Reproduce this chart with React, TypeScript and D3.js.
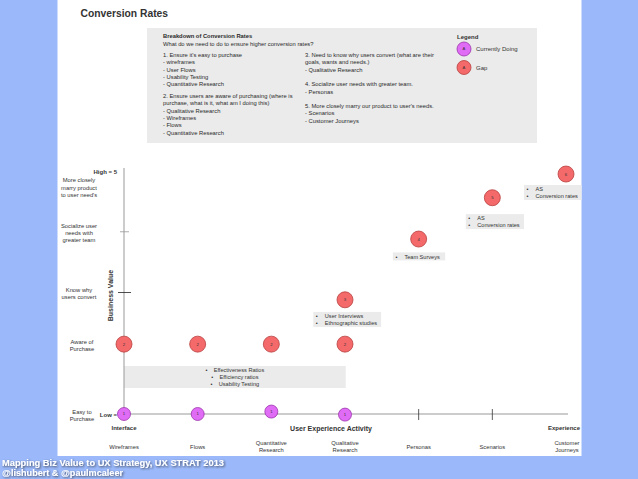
import React from "react";
import * as d3 from "d3";

// ---------- data ----------
const categories = ["Wireframes", "Flows", "Quantitative Research", "Qualitative Research", "Personas", "Scenarios", "Customer Journeys"];
const categoryLabelLines = [["Wireframes"], ["Flows"], ["Quantitative", "Research"], ["Qualitative", "Research"], ["Personas"], ["Scenarios"], ["Customer", "Journeys"]];
const tickedCategories = ["Personas", "Scenarios"];

const currentlyDoingCats = ["Wireframes", "Flows", "Quantitative Research", "Qualitative Research"];
const currentlyDoingValues = [1, 1, 1.04, 0.99];
const currentlyDoingSteps = ["1", "1", "1", "1"];

const gapCats = ["Wireframes", "Flows", "Quantitative Research", "Qualitative Research", "Qualitative Research", "Personas", "Scenarios", "Customer Journeys"];
const gapValues = [2.15, 2.15, 2.15, 2.15, 2.88, 3.88, 4.56, 4.95];
const gapSteps = ["2", "2", "2", "2", "3", "4", "5", "6"];

const yLevelValues = [1, 2.15, 3, 4, 4.75];
const yLevelLabels = [["Easy to", "Purchase"], ["Aware of", "Purchase"], ["Know why", "users convert"], ["Socialize user", "needs with", "greater team"], ["More closely", "marry product", "to user need's"]];
const yTickValues = [3, 4];

const annotationTexts = [
  ["Effectiveness Ratios", "Efficiency ratios", "Usability Testing"],
  ["User Interviews", "Ethnographic studies"],
  ["Team Surveys"],
  ["AS", "Conversion rates"],
  ["AS", "Conversion rates"],
];

const breakdownTitle = "Breakdown of Conversion Rates";
const breakdownQuestion = "What do we need to do to ensure higher conversion rates?";
const breakdownCol1 = [
  ["1. Ensure it's easy to purchase", "- wireframes", "- User Flows", "- Usability Testing", "- Quantitative Research"],
  ["2. Ensure users are aware of purchasing (where is", "purchase, what is it, what am I doing this)", "- Qualitative Research", "- Wireframes", "- Flows", "- Quantitative Research"],
];
const breakdownCol2 = [
  ["3. Need to know why users convert (what are their", "goals, wants and needs.)", "- Qualitative Research"],
  ["4. Socialize user needs with greater team.", "- Personas"],
  ["5. More closely marry our product to user's needs.", "- Scenarios", "- Customer Journeys"],
];
const legendLabels = ["Currently Doing", "Gap"];

// ---------- layout / style ----------
const W = 638, H = 479;
const FONT = "'Liberation Sans', Arial, Helvetica, sans-serif";
const BLUE = "#9ab8fa";
const RED = "#f46a6a", RED_S = "#b84040";
const PURPLE = "#e06cf6", PURPLE_S = "#9a35ab";
const BOXGREY = "#ebebeb";
const AXIS = "#999";

const x = d3.scalePoint<string>().domain(categories).range([124, 566]);
const xi = d3.scaleLinear().domain([0, categories.length - 1]).range([124, 566]);
const y = d3.scaleLinear().domain([1, 5]).range([414, 171]);

// annotation boxes: [x0 idx, x1 idx, top value, align]
const annotationLayout: [number, number, number, string][] = [
  [0, 3.01, 1.79, "middle"],
  [2.57, 3.49, 2.68, "start"],
  [3.65, 4.36, 3.66, "start"],
  [4.64, 5.43, 4.29, "start"],
  [5.43, 6.45, 4.77, "start"],
];

function Circle({ cx, cy, r, fill, stroke, label }: any) {
  return (
    <g>
      <circle cx={cx} cy={cy} r={r} fill={fill} stroke={stroke} strokeWidth={0.8} />
      <text x={cx} y={cy} dy="0.35em" textAnchor="middle" fontSize={4.2} fill="#333">{label}</text>
    </g>
  );
}

export default function App() {
  const lh = 7.3;
  const renderCol = (paras: string[][], x0: number, gap: number) => {
    const out: any[] = [];
    let yy = 55;
    paras.forEach((p, pi) => {
      p.forEach((line, li) => {
        out.push(<text key={pi + "-" + li} x={x0} y={yy} dy="0.35em" fontSize={5.8} fill="#2a2a2a">{line}</text>);
        yy += lh;
      });
      yy += gap;
    });
    return out;
  };

  return (
    <svg width={W} height={H} style={{ position: "absolute", left: 0, top: 0 }} fontFamily={FONT}>
      <defs>
        <clipPath id="panel"><rect x={57.5} y={0} width={524} height={456} /></clipPath>
        <filter id="shadow" x="-5%" y="-30%" width="110%" height="160%">
          <feDropShadow dx={1} dy={1} stdDeviation={0.8} floodColor="#222" floodOpacity={0.75} />
        </filter>
      </defs>
      <rect x={0} y={0} width={W} height={H} fill={BLUE} />
      <rect x={57.5} y={0} width={524} height={456} fill="#fff" />

      <g clipPath="url(#panel)">
        <text x={80.5} y={13} dy="0.35em" fontSize={10.3} fontWeight="bold" fill="#333">Conversion Rates</text>

        {/* breakdown box */}
        <rect x={147} y={28} width={390} height={115} fill={BOXGREY} />
        <text x={163} y={36} dy="0.35em" fontSize={5.8} fontWeight="bold" fill="#2a2a2a">{breakdownTitle}</text>
        <text x={163} y={43.5} dy="0.35em" fontSize={5.8} fill="#2a2a2a">{breakdownQuestion}</text>
        {renderCol(breakdownCol1, 163, 4.5)}
        {renderCol(breakdownCol2, 305, lh)}

        {/* legend */}
        <text x={457} y={36.5} dy="0.35em" fontSize={6} fontWeight="bold" fill="#333">Legend</text>
        {legendLabels.map((l, i) => (
          <g key={l}>
            <Circle cx={464} cy={49 + i * 18.5} r={7} fill={i === 0 ? PURPLE : RED} stroke={i === 0 ? PURPLE_S : RED_S} label="A" />
            <text x={476} y={49 + i * 18.5} dy="0.35em" fontSize={6} fill="#333">{l}</text>
          </g>
        ))}

        {/* annotation boxes */}
        {annotationTexts.map((lines, i) => {
          const [a, b, v, align] = annotationLayout[i];
          const x0 = xi(a), x1 = xi(b), top = y(v);
          const h = lines.length * 7 + 1;
          return (
            <g key={i}>
              <rect x={x0} y={top} width={x1 - x0} height={h} fill={BOXGREY} />
              {lines.map((t, j) => align === "middle" ? (
                <text key={j} x={(x0 + x1) / 2} y={top + 4.3 + j * 7} dy="0.35em" textAnchor="middle" fontSize={5.6} fill="#333" style={{ whiteSpace: "pre" }}>{"•    " + t}</text>
              ) : (
                <g key={j}>
                  <text x={x0 + 2.5} y={top + 4.3 + j * 7} dy="0.35em" fontSize={5.6} fill="#333">•</text>
                  <text x={x0 + 11.5} y={top + 4.3 + j * 7} dy="0.35em" fontSize={5.6} fill="#333">{t}</text>
                </g>
              ))}
            </g>
          );
        })}

        {/* y axis */}
        <line x1={124} x2={124} y1={168} y2={414} stroke={AXIS} strokeWidth={1} />
        {yTickValues.map((v, i) => (
          <line key={v} x1={i === 0 ? 118 : 120} x2={i === 0 ? 131 : 129} y1={y(v)} y2={y(v)} stroke={i === 0 ? "#222" : AXIS} strokeWidth={0.8} />
        ))}
        <text x={117} y={y(5) + 1} dy="0.35em" textAnchor="end" fontSize={6} fontWeight="bold" fill="#333">High = 5</text>
        <text x={117} y={y(1) + 0.5} dy="0.35em" textAnchor="end" fontSize={6} fontWeight="bold" fill="#333">Low =</text>
        {yLevelValues.map((v, i) => {
          const lines = yLevelLabels[i];
          const cy = y(v) + 1.3;
          const cxl = i < 2 ? 82 : 79;
          return lines.map((l, j) => (
            <text key={i + "-" + j} x={cxl} y={cy + (j - (lines.length - 1) / 2) * 7.2} dy="0.35em" textAnchor="middle" fontSize={5.8} fill="#333">{l}</text>
          ));
        })}
        <text transform={`translate(110.5, ${y(2.95)}) rotate(-90)`} textAnchor="middle" dy="0.35em" fontSize={7} fontWeight="bold" fill="#333">Business Value</text>

        {/* x axis */}
        <line x1={124} x2={568} y1={414} y2={414} stroke={AXIS} strokeWidth={1} />
        {tickedCategories.map(c => (
          <line key={c} x1={x(c)} x2={x(c)} y1={409} y2={420} stroke="#333" strokeWidth={0.8} />
        ))}
        <text x={x(categories[0])} y={428} dy="0.35em" textAnchor="middle" fontSize={6} fontWeight="bold" fill="#333">Interface</text>
        <text x={331} y={429} dy="0.35em" textAnchor="middle" fontSize={7} fontWeight="bold" fill="#333">User Experience Activity</text>
        <text x={580} y={427.5} dy="0.35em" textAnchor="end" fontSize={6} fontWeight="bold" fill="#333">Experience</text>
        {categories.map((c, i) => {
          const lines = categoryLabelLines[i];
          return lines.map((l, j) => (
            <text key={c + j} x={(x(c) as number) + (i === 6 ? 1 : 0)} y={446.5 + (j - (lines.length - 1) / 2) * 7.5} dy="0.35em" textAnchor="middle" fontSize={5.8} fill="#333">{l}</text>
          ));
        })}

        {/* marks */}
        {gapCats.map((c, i) => (
          <Circle key={"g" + i} cx={x(c)} cy={y(gapValues[i])} r={8} fill={RED} stroke={RED_S} label={gapSteps[i]} />
        ))}
        {currentlyDoingCats.map((c, i) => (
          <Circle key={"p" + i} cx={x(c)} cy={y(currentlyDoingValues[i])} r={6.5} fill={PURPLE} stroke={PURPLE_S} label={currentlyDoingSteps[i]} />
        ))}
      </g>

      {/* footer */}
      <g filter="url(#shadow)" fill="#fff" fontWeight="bold" fontSize={9.5}>
        <text x={2} y={465.5} textLength={222} lengthAdjust="spacingAndGlyphs">Mapping Biz Value to UX Strategy, UX STRAT 2013</text>
        <text x={2} y={476} textLength={121} lengthAdjust="spacingAndGlyphs">@lishubert &amp; @paulmcaleer</text>
      </g>
    </svg>
  );
}
